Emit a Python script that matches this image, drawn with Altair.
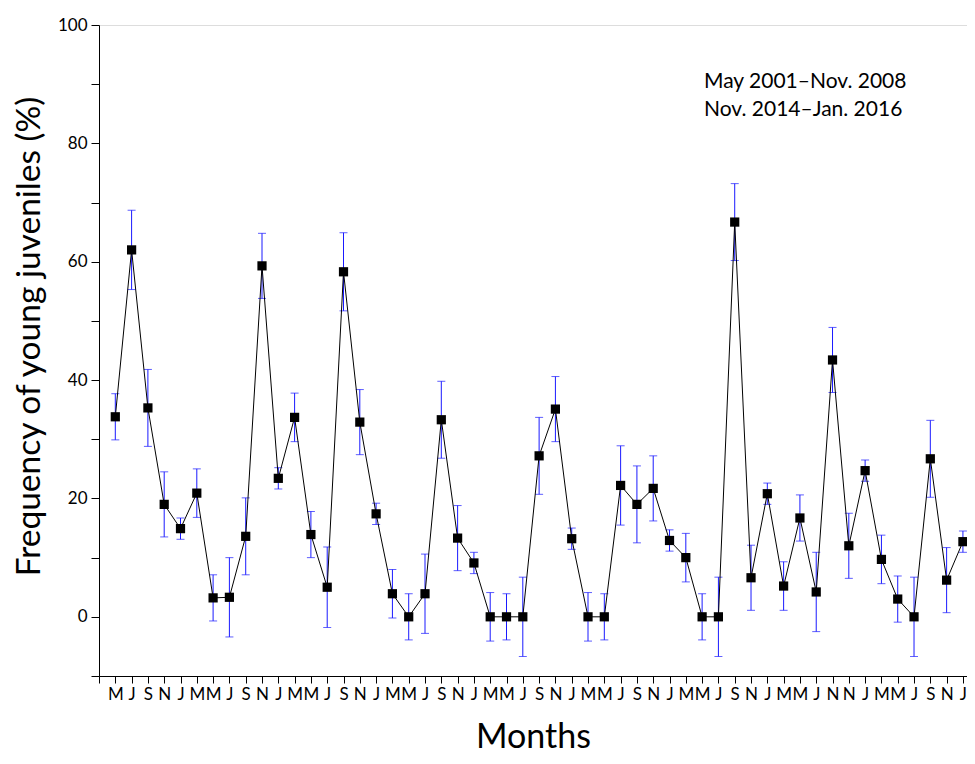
import altair as alt
import pandas as pd

month_labels = ["M", "J", "S", "N", "J", "M", "M", "J", "S", "N", "J", "M",
                "M", "J", "S", "N", "J", "M", "M", "J", "S", "N", "J", "M",
                "M", "J", "S", "N", "J", "M", "M", "J", "S", "N", "J", "M",
                "M", "J", "S", "N", "J", "M", "M", "J", "N", "N", "J", "M",
                "M", "J", "S", "N", "J"]

values = [33.8, 62.0, 35.3, 19.0, 14.9, 20.9, 3.2, 3.3, 13.6, 59.3, 23.4, 33.7,
          13.9, 5.0, 58.3, 32.9, 17.4, 3.9, 0.0, 3.9, 33.3, 13.3, 9.1, 0.0,
          0.0, 0.0, 27.2, 35.1, 13.2, 0.0, 0.0, 22.2, 19.0, 21.7, 12.9, 10.0,
          0.0, 0.0, 66.7, 6.6, 20.8, 5.2, 16.7, 4.2, 43.4, 12.0, 24.7, 9.7,
          3.0, 0.0, 26.7, 6.2, 12.7]

errors = [3.9, 6.7, 6.5, 5.5, 1.8, 4.1, 3.9, 6.7, 6.5, 5.5, 1.8, 4.1,
          3.9, 6.8, 6.6, 5.5, 1.8, 4.1, 3.9, 6.7, 6.5, 5.5, 1.8, 4.1,
          3.9, 6.7, 6.5, 5.5, 1.8, 4.1, 3.9, 6.7, 6.5, 5.5, 1.8, 4.1,
          3.9, 6.7, 6.5, 5.5, 1.8, 4.1, 3.9, 6.7, 5.5, 5.5, 1.8, 4.1,
          3.9, 6.7, 6.5, 5.5, 1.8]

note_lines = ["May 2001\u2013Nov. 2008", "Nov. 2014\u2013Jan. 2016"]

FONT = "Lato"
BLUE = "#1a1aff"

df = pd.DataFrame({
    "idx": list(range(1, len(values) + 1)),
    "month": month_labels,
    "value": values,
    "err": errors,
})
df["lo"] = df["value"] - df["err"]
df["hi"] = df["value"] + df["err"]

label_array = "[" + ",".join("'" + m + "'" for m in [""] + month_labels) + "]"

x_scale = alt.Scale(domain=[0, 53.25], nice=False, zero=False)
y_scale = alt.Scale(domain=[-10, 100], nice=False, zero=False)

x_axis = alt.Axis(
    values=list(range(0, len(values) + 1)),
    labelExpr=label_array + "[datum.value]",
    grid=False, tickSize=7, tickColor="black", domainColor="black",
    labelColor="black", labelFont=FONT, labelFontSize=17, labelPadding=3,
    labelAngle=0, labelOverlap=False, labelFlush=False,
    title="Months", titleFont=FONT, titleFontSize=34, titleFontWeight="normal",
    titleColor="black", titleBaseline="alphabetic", titleY=71,
)
y_axis = alt.Axis(
    values=list(range(-10, 101, 10)),
    labelExpr="datum.value % 20 == 0 ? datum.value : ''",
    grid=False, tickSize=8, tickColor="black", domainColor="black",
    labelColor="black", labelFont=FONT, labelFontSize=17, labelPadding=4,
    labelOverlap=False,
    title="Frequency of young juveniles (%)", titleFont=FONT, titleFontSize=33.5,
    titleFontWeight="normal", titleColor="black", titleAngle=270,
    titleBaseline="alphabetic", titleAlign="center", titleX=-60, titleY=311,
)

X = alt.X("idx:Q", scale=x_scale, axis=x_axis)
base = alt.Chart(df).encode(x=X)

bars = base.mark_rule(color=BLUE, strokeWidth=1).encode(
    y=alt.Y("lo:Q", scale=y_scale, axis=y_axis),
    y2="hi:Q",
)
cap_lo = base.mark_tick(color=BLUE, thickness=1, size=8, orient="horizontal").encode(
    y=alt.Y("lo:Q", scale=y_scale, axis=y_axis)
)
cap_hi = base.mark_tick(color=BLUE, thickness=1, size=8, orient="horizontal").encode(
    y=alt.Y("hi:Q", scale=y_scale, axis=y_axis)
)
line = base.mark_line(color="black", strokeWidth=1).encode(
    y=alt.Y("value:Q", scale=y_scale, axis=y_axis)
)
pts = base.mark_square(color="black", size=85, opacity=1, filled=True).encode(
    y=alt.Y("value:Q", scale=y_scale, axis=y_axis)
)

notes = pd.DataFrame({"text": note_lines, "row": [0, 1]})
note1 = alt.Chart(notes[notes.row == 0]).mark_text(
    font=FONT, fontSize=21, color="black", align="left", baseline="alphabetic"
).encode(text="text:N", x=alt.value(605), y=alt.value(63))
note2 = alt.Chart(notes[notes.row == 1]).mark_text(
    font=FONT, fontSize=21, color="black", align="left", baseline="alphabetic"
).encode(text="text:N", x=alt.value(605), y=alt.value(91))

chart = alt.layer(bars, cap_lo, cap_hi, line, pts, note1, note2).properties(
    width=868, height=651,
    padding={"left": 91, "top": 17, "right": 0, "bottom": 80},
    autosize=alt.AutoSizeParams(type="none"),
).configure_view(stroke=None).configure(background="white")

chart.save("out.html", embed_options={"renderer": "svg", "actions": False})
